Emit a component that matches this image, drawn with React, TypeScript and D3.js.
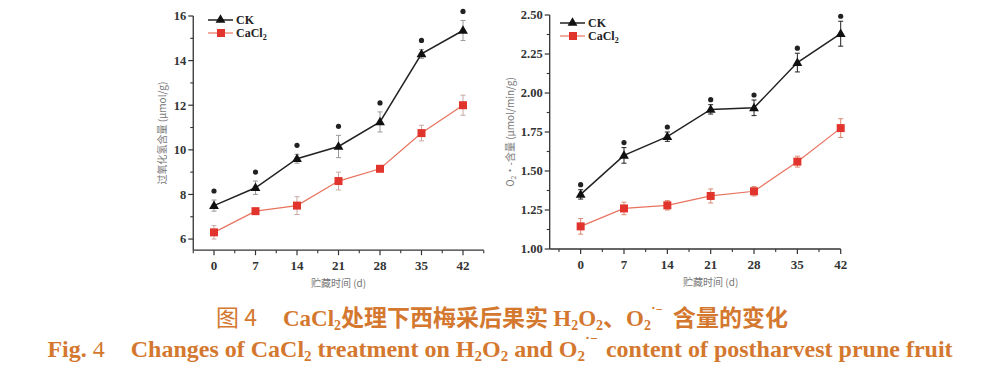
import React from "react";
import * as d3 from "d3";

const days = [0, 7, 14, 21, 28, 35, 42];
const h2o2CK = [7.5, 8.3, 9.6, 10.15, 11.25, 14.3, 15.35];
const h2o2CKErr = [0.25, 0.3, 0.2, 0.5, 0.45, 0.2, 0.45];
const h2o2Ca = [6.3, 7.25, 7.5, 8.6, 9.15, 10.75, 12.0];
const h2o2CaErr = [0.3, 0.1, 0.4, 0.4, 0.1, 0.35, 0.45];
const o2CK = [1.35, 1.6, 1.72, 1.895, 1.905, 2.195, 2.38];
const o2CKErr = [0.03, 0.05, 0.03, 0.03, 0.05, 0.06, 0.08];
const o2Ca = [1.145, 1.26, 1.28, 1.34, 1.37, 1.56, 1.775];
const o2CaErr = [0.05, 0.04, 0.03, 0.045, 0.03, 0.035, 0.06];
const leftYTicks = [6, 8, 10, 12, 14, 16];
const leftYMinor = [7, 9, 11, 13, 15];
const rightYTicks = [1.0, 1.25, 1.5, 1.75, 2.0, 2.25, 2.5];
const rightYMinor = [1.125, 1.375, 1.625, 1.875, 2.125, 2.375];
const xMinor = [-3.5, 3.5, 10.5, 17.5, 24.5, 31.5, 38.5];

const ORANGE = "#d4782f";
const RED = "#e0342c";
const serif = "'Liberation Serif', 'DejaVu Serif', serif";
const cjk = "'Noto Sans CJK SC', sans-serif";

type PanelProps = {
  xDomain: [number, number];
  xRange: [number, number];
  yDomain: [number, number];
  yRange: [number, number];
  yTicks: number[];
  yMinor: number[];
  yFmt: (v: number) => string;
  ck: number[];
  ckErr: number[];
  ca: number[];
  caErr: number[];
  ckErrColor: string;
  caErrColor: string;
  legendX: number;
  legendY: number;
  ylabel: React.ReactNode;
  ylabelX: number;
  starGap: number;
  extraMinor?: number[];
};

function Panel(p: PanelProps) {
  const x = d3.scaleLinear().domain(p.xDomain).range(p.xRange);
  const y = d3.scaleLinear().domain(p.yDomain).range(p.yRange);
  const line = d3
    .line<number>()
    .x((_, i) => x(days[i]))
    .y((d) => y(d));
  const x0 = p.xRange[0];
  const y0 = p.yRange[0];
  const tri = d3.symbol(d3.symbolTriangle, 42)();
  const minors = xMinor.concat(p.extraMinor || []);
  const midX = (x(days[0]) + x(days[6])) / 2;
  const midY = (p.yRange[0] + p.yRange[1]) / 2;
  return (
    <g>
      <line x1={x0} x2={x0} y1={p.yRange[1]} y2={y0} stroke="#333" strokeWidth={1.3} />
      <line x1={x0} x2={p.xRange[1]} y1={y0} y2={y0} stroke="#333" strokeWidth={1.3} />
      {p.yTicks.map((t) => (
        <g key={"yt" + t}>
          <line x1={x0 - 5} x2={x0} y1={y(t)} y2={y(t)} stroke="#333" strokeWidth={1.2} />
          <text x={x0 - 7} y={y(t)} dy="0.35em" textAnchor="end" fontFamily={serif} fontWeight="bold" fontSize={12.5} fill="#333">
            {p.yFmt(t)}
          </text>
        </g>
      ))}
      {p.yMinor.map((t) => (
        <line key={"ym" + t} x1={x0 - 3} x2={x0} y1={y(t)} y2={y(t)} stroke="#333" strokeWidth={1.1} />
      ))}
      {days.map((t) => (
        <g key={"xt" + t}>
          <line x1={x(t)} x2={x(t)} y1={y0} y2={y0 + 5} stroke="#333" strokeWidth={1.2} />
          <text x={x(t)} y={y0 + 20} textAnchor="middle" fontFamily={serif} fontWeight="bold" fontSize={13} fill="#333">
            {t}
          </text>
        </g>
      ))}
      {minors.map((t) => (
        <line key={"xm" + t} x1={x(t)} x2={x(t)} y1={y0} y2={y0 + 3} stroke="#333" strokeWidth={1.1} />
      ))}
      <text x={midX} y={y0 + 37} textAnchor="middle" fontFamily={cjk} fontSize={10} fill="#777">
        贮藏时间 (d)
      </text>
      <text
        transform={`translate(${p.ylabelX},${midY}) rotate(-90)`}
        textAnchor="middle"
        fontFamily={cjk}
        fontSize={10}
        fill="#777"
      >
        {p.ylabel}
      </text>
      {p.ca.map((v, i) => (
        <g key={"ce" + i} stroke={p.caErrColor} strokeWidth={1}>
          <line x1={x(days[i])} x2={x(days[i])} y1={y(v - p.caErr[i])} y2={y(v + p.caErr[i])} />
          <line x1={x(days[i]) - 2.5} x2={x(days[i]) + 2.5} y1={y(v - p.caErr[i])} y2={y(v - p.caErr[i])} />
          <line x1={x(days[i]) - 2.5} x2={x(days[i]) + 2.5} y1={y(v + p.caErr[i])} y2={y(v + p.caErr[i])} />
        </g>
      ))}
      {p.ck.map((v, i) => (
        <g key={"ke" + i} stroke={p.ckErrColor} strokeWidth={1}>
          <line x1={x(days[i])} x2={x(days[i])} y1={y(v - p.ckErr[i])} y2={y(v + p.ckErr[i])} />
          <line x1={x(days[i]) - 2.5} x2={x(days[i]) + 2.5} y1={y(v - p.ckErr[i])} y2={y(v - p.ckErr[i])} />
          <line x1={x(days[i]) - 2.5} x2={x(days[i]) + 2.5} y1={y(v + p.ckErr[i])} y2={y(v + p.ckErr[i])} />
        </g>
      ))}
      <path d={line(p.ca) || ""} fill="none" stroke="#e8735f" strokeWidth={1.2} />
      <path d={line(p.ck) || ""} fill="none" stroke="#222" strokeWidth={1.5} />
      {p.ca.map((v, i) => (
        <rect key={"cm" + i} x={x(days[i]) - 4} y={y(v) - 4} width={8} height={8} fill={RED} />
      ))}
      {p.ck.map((v, i) => (
        <path key={"km" + i} d={tri || ""} transform={`translate(${x(days[i])},${y(v) + 0.5})`} fill="#111" />
      ))}
      {p.ck.map((v, i) => (
        <circle key={"st" + i} cx={x(days[i])} cy={y(v + p.ckErr[i]) - p.starGap} r={2.6} fill="#222" />
      ))}
      <g>
        <line x1={p.legendX} x2={p.legendX + 25} y1={p.legendY} y2={p.legendY} stroke="#222" strokeWidth={1.5} />
        <path d={tri || ""} transform={`translate(${p.legendX + 12.5},${p.legendY})`} fill="#111" />
        <text x={p.legendX + 28} y={p.legendY} dy="0.35em" fontFamily={serif} fontWeight="bold" fontSize={12} fill="#222">
          CK
        </text>
        <line x1={p.legendX} x2={p.legendX + 25} y1={p.legendY + 13} y2={p.legendY + 13} stroke="#e8735f" strokeWidth={1.2} />
        <rect x={p.legendX + 9} y={p.legendY + 9} width={8} height={8} fill={RED} />
        <text x={p.legendX + 28} y={p.legendY + 13} dy="0.35em" fontFamily={serif} fontWeight="bold" fontSize={12} fill="#222">
          CaCl<tspan fontSize={8} dy="3">2</tspan>
        </text>
      </g>
    </g>
  );
}

export default function App() {
  return (
    <svg
      width={1000}
      height={381}
      style={{ position: "absolute", left: 0, top: 0, background: "#fff" }}
    >
      <rect x={0} y={0} width={1000} height={381} fill="#fff" />
      <Panel
        xDomain={[-3.5, 45.5]}
        xRange={[193.25, 483.75]}
        yDomain={[5.5, 16]}
        yRange={[250.2, 16]}
        yTicks={leftYTicks}
        yMinor={leftYMinor}
        yFmt={(v) => String(v)}
        ck={h2o2CK}
        ckErr={h2o2CKErr}
        ca={h2o2Ca}
        caErr={h2o2CaErr}
        ckErrColor="#9a9a9a"
        caErrColor="#c9a9a3"
        legendX={208}
        legendY={20}
        ylabel={"过氧化氢含量 (μmol/g)"}
        ylabelX={166}
        starGap={9}
        extraMinor={[45.5]}
      />
      <Panel
        xDomain={[-5, 42]}
        xRange={[549.7, 840.7]}
        yDomain={[1.0, 2.5]}
        yRange={[249, 15]}
        yTicks={rightYTicks}
        yMinor={rightYMinor}
        yFmt={(v) => v.toFixed(2)}
        ck={o2CK}
        ckErr={o2CKErr}
        ca={o2Ca}
        caErr={o2CaErr}
        ckErrColor="#222"
        caErrColor="#d98a70"
        legendX={560}
        legendY={23}
        ylabel={
          <>
            O<tspan fontSize={7} dy="2">2</tspan>
            <tspan dy="-2">•-含量 (μmol/min/g)</tspan>
          </>
        }
        ylabelX={514}
        starGap={5}
      />
      <text x={502} y={326} textAnchor="middle" fill={ORANGE} fontSize={23}>
        <tspan fontFamily={cjk}>图 4</tspan>
        <tspan fontFamily={serif} fontWeight="bold" dx="26">CaCl</tspan>
        <tspan fontFamily={serif} fontWeight="bold" fontSize={14} dy="4">2</tspan>
        <tspan fontFamily={cjk} fontWeight="bold" dy="-4">处理下西梅采后果实 </tspan>
        <tspan fontFamily={serif} fontWeight="bold">H</tspan>
        <tspan fontFamily={serif} fontWeight="bold" fontSize={14} dy="4">2</tspan>
        <tspan fontFamily={serif} fontWeight="bold" dy="-4">O</tspan>
        <tspan fontFamily={serif} fontWeight="bold" fontSize={14} dy="4">2</tspan>
        <tspan fontFamily={cjk} fontWeight="bold" dy="-4">、</tspan>
        <tspan fontFamily={serif} fontWeight="bold">O</tspan>
        <tspan fontFamily={serif} fontWeight="bold" fontSize={14} dy="4">2</tspan>
        <tspan fontFamily={serif} fontWeight="bold" fontSize={14} dy="-13">˙⁻</tspan>
        <tspan fontFamily={cjk} fontWeight="bold" dy="9" dx="10">含量的变化</tspan>
      </text>
      <text x={500} y={357} textAnchor="middle" fill={ORANGE} fontSize={24} fontFamily={serif} fontWeight="bold">
        <tspan>Fig.</tspan>
        <tspan fontWeight="normal"> 4</tspan>
        <tspan dx="26">Changes of CaCl</tspan>
        <tspan fontSize={15} dy="4">2</tspan>
        <tspan dy="-4"> treatment on H</tspan>
        <tspan fontSize={15} dy="4">2</tspan>
        <tspan dy="-4">O</tspan>
        <tspan fontSize={15} dy="4">2</tspan>
        <tspan dy="-4"> and O</tspan>
        <tspan fontSize={15} dy="4">2</tspan>
        <tspan fontSize={15} dy="-14">˙⁻</tspan>
        <tspan dy="10" dx="8">content of postharvest prune fruit</tspan>
      </text>
    </svg>
  );
}
